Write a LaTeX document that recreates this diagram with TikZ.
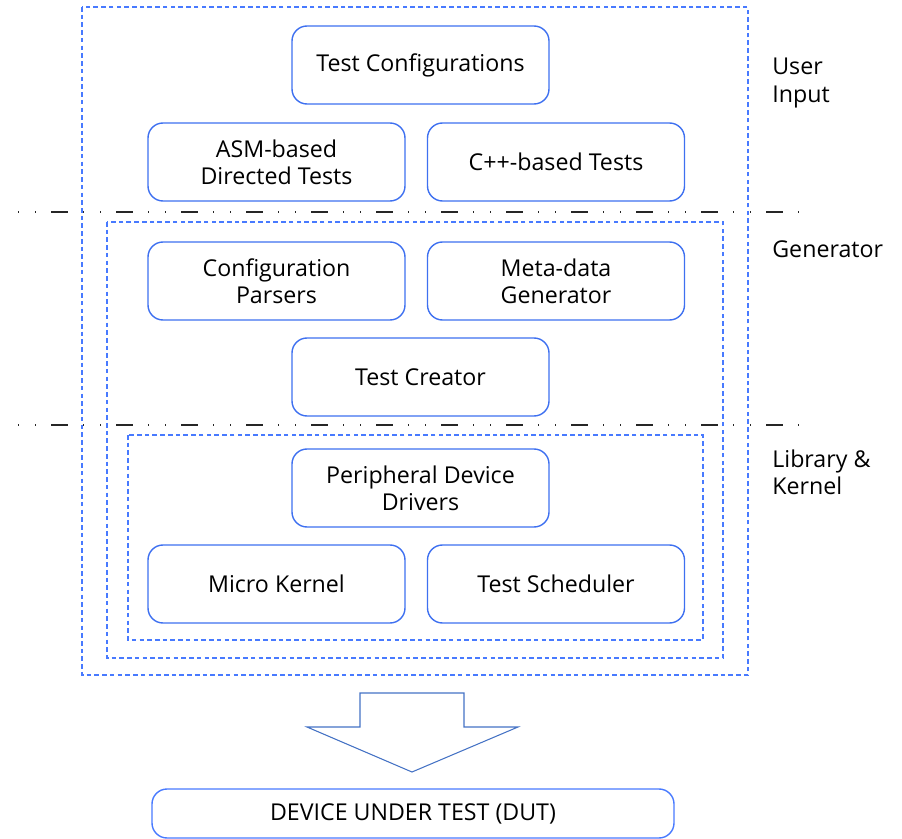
\documentclass[tikz,border=0pt]{standalone}
\usepackage{fontspec}
\setmainfont{Open Sans}
\usepackage{tikz}
\usepackage{xcolor}

\definecolor{boxblue}{RGB}{62,112,240}
\definecolor{zoneblue}{RGB}{72,122,255}
\definecolor{arrowblue}{RGB}{68,114,196}

\begin{document}
\begin{tikzpicture}[
            blk/.style={shape=rectangle, rounded corners=0.3cm, draw=boxblue, line width=0.8pt,
                        minimum width=5.14cm, minimum height=1.56cm, align=center,
                        font=\fontsize{13.2}{15.4}\selectfont},
            zone/.style={draw=zoneblue, line width=0.7pt, dash pattern=on 2.6pt off 1.8pt},
            sep/.style={draw=black!85, line width=0.6pt,
                        dash pattern=on 0.6pt off 9.1pt on 0.6pt off 8.5pt on 9.7pt off 8.5pt},
            lbl/.style={anchor=west, align=left, inner sep=0pt, font=\fontsize{13.2}{15.4}\selectfont}]
        \useasboundingbox (0,0) rectangle (18.04,-16.78);

        % nested regions
        \draw[zone] (1.64,-0.14) rectangle (14.96,-13.50);
        \draw[zone] (2.14,-4.44) rectangle (14.46,-13.16);
        \draw[zone] (2.56,-8.70) rectangle (14.06,-12.80);

        % layer borders
        \draw[sep] (0.36,-4.24) -- (16.2,-4.24);
        \draw[sep] (0.36,-8.50) -- (16.2,-8.50);

        % user input
        \node[blk] (conf) at (8.41,-1.30) {Test Configurations};
        \node[blk] (asm) at (5.53,-3.24) {ASM-based\\Directed Tests};
        \node[blk] (cpp) at (11.12,-3.24) {C++-based Tests};

        % generator
        \node[blk] (parse) at (5.53,-5.62) {Configuration\\Parsers};
        \node[blk] (meta) at (11.12,-5.62) {Meta-data\\Generator};
        \node[blk] (creator) at (8.41,-7.54) {Test Creator};

        % library and kernel
        \node[blk] (drivers) at (8.41,-9.76) {Peripheral Device\\Drivers};
        \node[blk] (kernel) at (5.53,-11.68) {Micro Kernel};
        \node[blk] (sched) at (11.12,-11.68) {Test Scheduler};

        \node[lbl] (userlbl) at (15.44,-1.66) {User\\Input};
        \node[lbl] (genlbl) at (15.44,-4.98) {Generator};
        \node[lbl] (liblbl) at (15.44,-9.44) {Library \&\\Kernel};

        % block arrow down to the device
        \draw[arrowblue, line width=0.6pt] (7.20,-13.86) -- (9.28,-13.86) -- (9.28,-14.54) -- (10.36,-14.54)
            -- (8.24,-15.44) -- (6.14,-14.54) -- (7.20,-14.54) -- cycle;

        \node[blk, draw=zoneblue, minimum width=10.44cm, minimum height=0.98cm] (dut) at (8.26,-16.27)
            {DEVICE UNDER TEST (DUT)};
    \end{tikzpicture}
\end{document}
